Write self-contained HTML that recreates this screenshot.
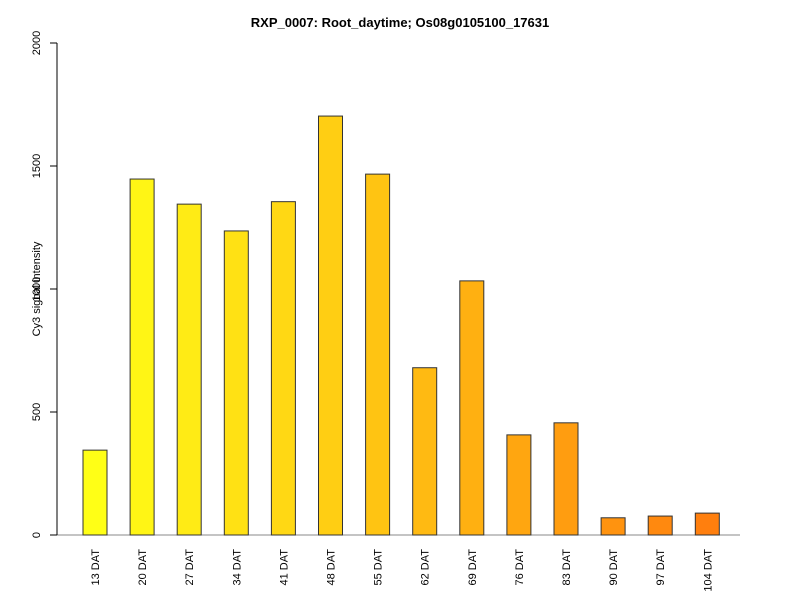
<!DOCTYPE html>
<html><head><meta charset="utf-8"><style>body{margin:0;background:#fff}svg{display:block;font-family:"Liberation Sans",Arial,sans-serif}</style></head>
<body>
<svg id="c" width="800" height="600">
<text x="400" y="27" text-anchor="middle" font-weight="bold" font-size="13">RXP_0007: Root_daytime; Os08g0105100_17631</text>
<text transform="translate(40,289) rotate(-90)" text-anchor="middle" font-size="11">Cy3 signal intensity</text>
</svg>
<script>
const categories=["13 DAT","20 DAT","27 DAT","34 DAT","41 DAT","48 DAT","55 DAT","62 DAT","69 DAT","76 DAT","83 DAT","90 DAT","97 DAT","104 DAT"];
const values=[345,1447,1345,1236,1355,1703,1467,680,1033,407,456,70,77,89];
const yTicks=[0,500,1000,1500,2000];
const svg=document.getElementById('c');
const NS='http://www.w3.org/2000/svg';
const y=v=>535-v*(492/2000);
const x=i=>83+i*47.1;
function mk(t,a){const e=document.createElementNS(NS,t);for(const k in a)e.setAttribute(k,a[k]);svg.appendChild(e);return e;}
const ax=mk('line',{x1:50,x2:740,y1:535,y2:535,stroke:'#888'});


const ya=mk('line',{x1:57,x2:57,y1:y(0),y2:y(2000),stroke:'#000'});


yTicks.forEach(t=>{
 const l=mk('line',{x1:50,x2:57,y1:y(t),y2:y(t),stroke:'#000'});
 
 
 const tx=mk('text',{transform:`translate(40,${y(t)}) rotate(-90)`,'text-anchor':'middle','font-size':11});
 tx.textContent=t;
 
 
});
categories.forEach((c,i)=>{
 const f=i/(categories.length-1);
 const g=Math.round(255-f*128), b=Math.round(22-f*8);
 const r=mk('rect',{x:x(i),y:y(values[i]),width:24,height:535-y(values[i]),fill:`rgb(255,${g},${b})`,stroke:'#333','stroke-width':1});
 
 
 const t=mk('text',{transform:`translate(${x(i)+16},549) rotate(-90)`,'text-anchor':'end','font-size':11});
 t.textContent=c;
 
 
});
</script>
</body></html>
